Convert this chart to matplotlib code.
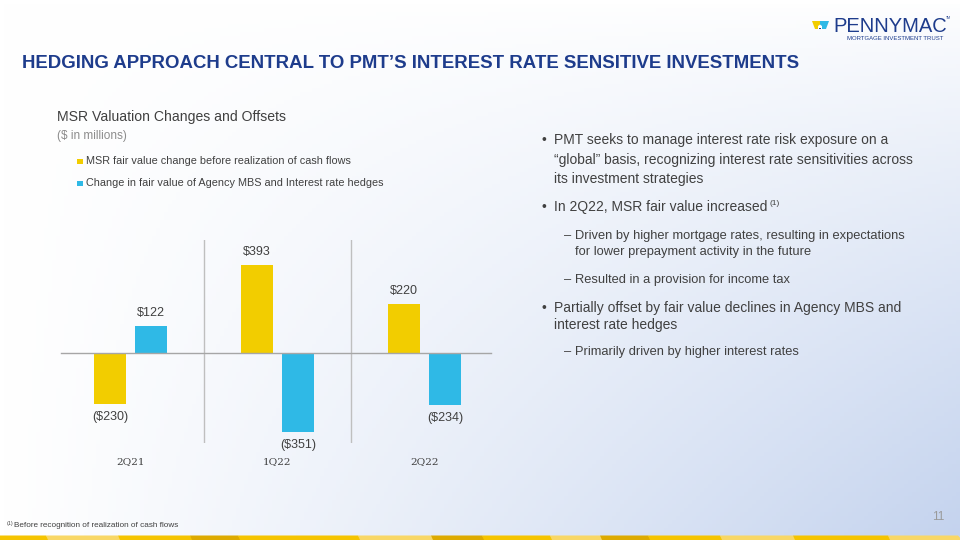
import matplotlib
matplotlib.use('Agg')
import matplotlib.pyplot as plt
import matplotlib.patches as mpatches
import numpy as np

plt.rcParams['font.family'] = ['Liberation Sans', 'DejaVu Sans']

# data
quarters = ['2Q21', '1Q22', '2Q22']
msr_change = [-230, 393, 220]
hedge_change = [122, -351, -234]
msr_labels = ['($230)', '$393', '$220']
hedge_labels = ['$122', '($351)', '($234)']

YELLOW = '#F2CD00'
BLUE = '#2FB9E6'
NAVY = '#1E3C8C'
TEXT = '#404040'

W, H = 960, 540
fig = plt.figure(figsize=(9.6, 5.4), dpi=100, facecolor='white')


def fx(px):
    return px / W


def fy(py):
    return 1 - py / H


# background gradient (white top-left -> light blue bottom-right)
bg = fig.add_axes([0, 0, 1, 1], zorder=-10)
gx, gy = np.meshgrid(np.linspace(0, 1, 240), np.linspace(0, 1, 135))
t = np.clip(gx ** 1.1 * gy ** 0.8, 0, 1)
c0 = np.array([1.0, 1.0, 1.0])
c1 = np.array([0xC4, 0xD3, 0xEE]) / 255
img = c0[None, None, :] * (1 - t[..., None]) + c1[None, None, :] * t[..., None]
bg.imshow(img, extent=[0, 1, 0, 1], origin='upper', aspect='auto')
bg.set_xlim(0, 1)
bg.set_ylim(0, 1)
bg.axis('off')

# bottom strip
strip = [(0, 48, '#F5C400'), (48, 120, '#F8D766'), (120, 192, '#F5C400'),
         (192, 240, '#DDAA00'), (240, 360, '#F5C400'), (360, 433, '#F8D766'),
         (433, 484, '#DDAA00'), (484, 552, '#F5C400'), (552, 602, '#F8D766'),
         (602, 650, '#DDAA00'), (650, 722, '#F5C400'), (722, 795, '#F8D766'),
         (795, 890, '#F5C400'), (890, 960, '#F8D766')]
for x0, x1, col in strip:
    poly = mpatches.Polygon([(fx(x0), fy(540)), (fx(x1 + 2), fy(540)),
                             (fx(x1 - 2), fy(535.5)), (fx(x0 - 2), fy(535.5))],
                            closed=True, facecolor=col, edgecolor='none',
                            transform=fig.transFigure)
    fig.patches.append(poly)

# logo
icon_l = mpatches.Polygon([(fx(812), fy(21)), (fx(820), fy(21)), (fx(820), fy(29)), (fx(815), fy(29))],
                          closed=True, facecolor=YELLOW, edgecolor='none', transform=fig.transFigure)
icon_r = mpatches.Polygon([(fx(820), fy(21)), (fx(829), fy(21)), (fx(826), fy(29)), (fx(820), fy(29))],
                          closed=True, facecolor=BLUE, edgecolor='none', transform=fig.transFigure)
house = mpatches.Polygon([(fx(818), fy(29)), (fx(818), fy(26)), (fx(820), fy(24.5)),
                          (fx(822), fy(26)), (fx(822), fy(29))],
                         closed=True, facecolor='white', edgecolor='none', transform=fig.transFigure)
house_door = mpatches.Rectangle((fx(819.3), fy(29)), fx(1.4), fx(1.8), facecolor=NAVY,
                                edgecolor='none', transform=fig.transFigure)
for p in (icon_l, icon_r, house, house_door):
    fig.patches.append(p)
fig.text(fx(833), fy(26), 'PENNYMAC', fontsize=14.5, color=NAVY, ha='left', va='center')
fig.text(fx(946), fy(18), 'TM', fontsize=2.5, color=NAVY, ha='left', va='center')
fig.text(fx(847), fy(38.5), 'MORTGAGE INVESTMENT TRUST', fontsize=4.3, color=NAVY,
         ha='left', va='center')

# title
fig.text(fx(22), fy(64), 'HEDGING APPROACH CENTRAL TO PMT\u2019S INTEREST RATE SENSITIVE INVESTMENTS',
         fontsize=13.4, weight='bold', color=NAVY, ha='left', va='center')

# chart heading + legend
fig.text(fx(57), fy(117), 'MSR Valuation Changes and Offsets', fontsize=10.1, color=TEXT,
         ha='left', va='center')
fig.text(fx(57), fy(136), '($ in millions)', fontsize=8.5, color='#8C8C8C', ha='left', va='center')
legend_items = [('MSR fair value change before realization of cash flows', YELLOW, 161),
                ('Change in fair value of Agency MBS and Interest rate hedges', BLUE, 183)]
for label, col, yy in legend_items:
    fig.patches.append(mpatches.Rectangle((fx(77), fy(yy + 3)), fx(5.5), 5.5 / H,
                                          facecolor=col, edgecolor='none',
                                          transform=fig.transFigure))
    fig.text(fx(86), fy(yy), label, fontsize=7.8, color=TEXT, ha='left', va='center')

# chart
ax = fig.add_axes([fx(57), fy(443), fx(441), (443 - 240) / H])
ax.set_facecolor('none')
x = np.arange(len(quarters))
bw = 0.22
off = 0.14
b1 = ax.bar(x - off, msr_change, width=bw, color=YELLOW, zorder=2)
b2 = ax.bar(x + off, hedge_change, width=bw, color=BLUE, zorder=2)
ax.set_xlim(-0.5, 2.5)
ax.set_ylim(-402, 504)
ax.axhline(0, xmin=0.01, xmax=0.985, color='#A6A6A6', linewidth=1, zorder=3)
for sep in (0.5, 1.5):
    ax.axvline(sep, color='#BFBFBF', linewidth=1, zorder=1)

for bars, vals, labs in ((b1, msr_change, msr_labels), (b2, hedge_change, hedge_labels)):
    for bar, v, lab in zip(bars, vals, labs):
        cx = bar.get_x() + bar.get_width() / 2
        if v >= 0:
            ax.annotate(lab, (cx, v), xytext=(0, 5), textcoords='offset points',
                        ha='center', va='bottom', fontsize=9, color=TEXT)
        else:
            ax.annotate(lab, (cx, v), xytext=(0, -5), textcoords='offset points',
                        ha='center', va='top', fontsize=9, color=TEXT)

ax.set_xticks(x)
ax.set_xticklabels(quarters, family='DejaVu Serif', fontsize=7.5, color=TEXT)
ax.tick_params(axis='x', length=0, pad=10)
ax.set_yticks([])
for s in ax.spines.values():
    s.set_visible(False)

# bullets on the right
bullets = [
    ('•', 541, 554, [(140, 'PMT seeks to manage interest rate risk exposure on a'),
                     (160, '\u201cglobal\u201d basis, recognizing interest rate sensitivities across'),
                     (179, 'its investment strategies')]),
    ('•', 541, 554, [(207, 'In 2Q22, MSR fair value increased')]),
    ('\u2013', 564, 575, [(236, 'Driven by higher mortgage rates, resulting in expectations'),
                          (252, 'for lower prepayment activity in the future')]),
    ('\u2013', 564, 575, [(280, 'Resulted in a provision for income tax')]),
    ('•', 541, 554, [(308, 'Partially offset by fair value declines in Agency MBS and'),
                     (325, 'interest rate hedges')]),
    ('\u2013', 564, 575, [(352, 'Primarily driven by higher interest rates')]),
]
for mark, mx, tx, lines in bullets:
    sub = mark != '•'
    fs = 9.3 if sub else 10
    fig.text(fx(mx), fy(lines[0][0]), mark, fontsize=fs, color=TEXT, ha='left', va='center')
    for yy, line in lines:
        fig.text(fx(tx), fy(yy), line, fontsize=fs, color=TEXT, ha='left', va='center')
fig.text(fx(769), fy(203), '(1)', fontsize=6, color=TEXT, ha='left', va='center')

# footnote and page number
fig.text(fx(7), fy(524), '(1)', fontsize=3.8, color=TEXT, ha='left', va='center')
fig.text(fx(14), fy(525.5), 'Before recognition of realization of cash flows', fontsize=5.85,
         color=TEXT, ha='left', va='center')
fig.text(fx(944), fy(517), '11', fontsize=8.5, color='#9A9A9A', ha='right', va='center')

fig.savefig('out.png', dpi=100, facecolor='white')
